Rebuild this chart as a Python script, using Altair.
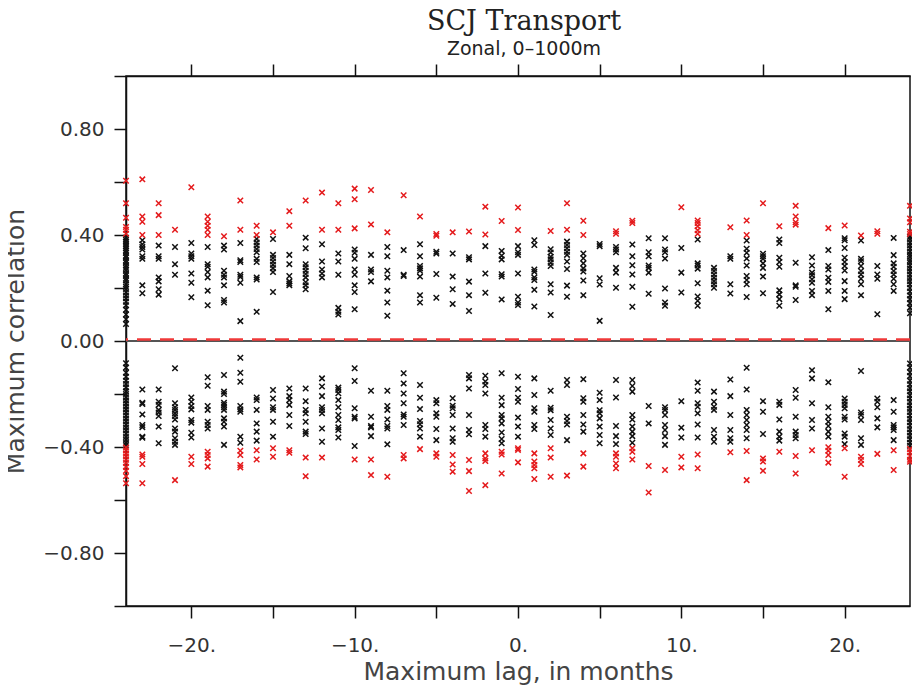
import altair as alt
import pandas as pd

# ---- data (lag in months -> correlation values) ----
BLACK = {
    -24: [0.39, 0.382, 0.375, 0.366, 0.358, 0.35, 0.341, 0.333, 0.322, 0.315, 0.304, 0.296, 0.285, 0.276,
          0.268, 0.255, 0.247, 0.236, 0.228, 0.214, 0.205, 0.196, 0.184, 0.172, 0.161, 0.148, 0.135, 0.118,
          0.1, 0.082, 0.064,
          -0.084, -0.1, -0.12, -0.135, -0.15, -0.162, -0.175, -0.19, -0.2, -0.212, -0.224, -0.235, -0.247,
          -0.258, -0.27, -0.281, -0.293, -0.304, -0.316, -0.327, -0.338, -0.35, -0.362, -0.373, -0.385, -0.393],
    -23: [0.38, 0.365, 0.355, 0.345, 0.32, 0.31, 0.21, 0.18,
          -0.183, -0.233, -0.238, -0.277, -0.317, -0.325, -0.361, -0.365],
    -22: [0.36, 0.32, 0.31, 0.24, 0.225, 0.195, 0.175,
          -0.183, -0.229, -0.241, -0.26, -0.27, -0.283, -0.323, -0.386],
    -21: [0.355, 0.29, 0.25,
          -0.103, -0.235, -0.25, -0.26, -0.273, -0.283, -0.296, -0.33, -0.342, -0.367, -0.38, -0.392],
    -20: [0.37, 0.33, 0.32, 0.31, 0.255, 0.22, 0.165,
          -0.213, -0.229, -0.245, -0.258, -0.298, -0.308, -0.346, -0.364],
    -19: [0.355, 0.29, 0.28, 0.26, 0.24, 0.19, 0.135,
          -0.137, -0.169, -0.245, -0.26, -0.305, -0.317, -0.33],
    -18: [0.36, 0.345, 0.265, 0.25, 0.24, 0.21, 0.155, 0.145,
          -0.128, -0.191, -0.2, -0.233, -0.241, -0.25, -0.26, -0.292, -0.305, -0.323, -0.392],
    -17: [0.37, 0.305, 0.298, 0.25, 0.242, 0.22, 0.075,
          -0.063, -0.12, -0.154, -0.245, -0.258, -0.267, -0.361, -0.384],
    -16: [0.385, 0.372, 0.36, 0.347, 0.335, 0.31, 0.298, 0.24, 0.232, 0.11,
          -0.213, -0.223, -0.26, -0.311, -0.342, -0.376],
    -15: [0.385, 0.325, 0.313, 0.30, 0.288, 0.275, 0.26, 0.185,
          -0.185, -0.217, -0.25, -0.26, -0.305, -0.361],
    -14: [0.325, 0.29, 0.245, 0.225, 0.217, 0.21,
          -0.179, -0.208, -0.223, -0.241, -0.279, -0.321],
    -13: [0.39, 0.35, 0.29, 0.278, 0.265, 0.253, 0.24, 0.222, 0.21, 0.195,
          -0.179, -0.227, -0.26, -0.273, -0.305, -0.342, -0.351],
    -12: [0.365, 0.30, 0.27, 0.255, 0.24,
          -0.141, -0.172, -0.208, -0.25, -0.26, -0.273, -0.33, -0.38],
    -11: [0.33, 0.30, 0.25, 0.125, 0.11, 0.10,
          -0.176, -0.185, -0.197, -0.223, -0.25, -0.279, -0.298, -0.326, -0.336, -0.364],
    -10: [0.345, 0.333, 0.31, 0.27, 0.25, 0.21, 0.185, 0.12,
          -0.103, -0.151, -0.254, -0.286, -0.292, -0.396],
    -9: [0.325, 0.27, 0.26, 0.225,
         -0.188, -0.286, -0.321, -0.326, -0.359],
    -8: [0.355, 0.32, 0.265, 0.24, 0.19, 0.145, 0.095,
         -0.188, -0.245, -0.26, -0.296, -0.321, -0.33, -0.39],
    -7: [0.343, 0.25, 0.245,
         -0.122, -0.16, -0.198, -0.235, -0.277, -0.286, -0.317],
    -6: [0.365, 0.32, 0.283, 0.274, 0.265, 0.243, 0.173, 0.145,
         -0.166, -0.214, -0.257, -0.302, -0.314, -0.33, -0.361],
    -5: [0.337, 0.33, 0.253, 0.163,
         -0.223, -0.235, -0.273, -0.286, -0.332, -0.374],
    -4: [0.33, 0.243, 0.195, 0.14,
         -0.216, -0.244, -0.254, -0.279, -0.33, -0.367, -0.38],
    -3: [0.316, 0.308, 0.224, 0.173, 0.113,
         -0.128, -0.141, -0.179, -0.279, -0.336, -0.352],
    -2: [0.358, 0.255, 0.182,
         -0.131, -0.153, -0.166, -0.198, -0.317, -0.332, -0.361],
    -1: [0.34, 0.322, 0.308, 0.252, 0.243, 0.157,
         -0.122, -0.214, -0.242, -0.279, -0.292, -0.311, -0.345, -0.37, -0.386],
    0: [0.358, 0.335, 0.325, 0.255, 0.167, 0.145, 0.136,
        -0.135, -0.181, -0.214, -0.229, -0.289, -0.323, -0.361],
    1: [0.38, 0.362, 0.27, 0.261, 0.24, 0.23, 0.193, 0.13,
        -0.141, -0.204, -0.254, -0.267, -0.317, -0.332],
    2: [0.346, 0.334, 0.318, 0.308, 0.295, 0.283, 0.214, 0.183, 0.098,
        -0.188, -0.252, -0.261, -0.298, -0.33, -0.355],
    3: [0.375, 0.362, 0.35, 0.337, 0.325, 0.30, 0.272, 0.209, 0.167,
        -0.147, -0.166, -0.286, -0.302, -0.315, -0.374],
    4: [0.33, 0.312, 0.293, 0.274, 0.262, 0.228, 0.173,
        -0.144, -0.216, -0.229, -0.279, -0.315, -0.342],
    5: [0.366, 0.358, 0.237, 0.213, 0.076,
        -0.195, -0.223, -0.261, -0.273, -0.292, -0.323, -0.355, -0.386],
    6: [0.355, 0.345, 0.335, 0.276, 0.258, 0.201,
        -0.147, -0.213, -0.321, -0.359, -0.389],
    7: [0.364, 0.32, 0.286, 0.251, 0.205, 0.129,
        -0.147, -0.17, -0.191, -0.279, -0.296, -0.323, -0.342, -0.359, -0.384],
    8: [0.388, 0.335, 0.32, 0.285, 0.276, 0.258, 0.178,
        -0.245, -0.311],
    9: [0.388, 0.345, 0.335, 0.311, 0.198, 0.145, 0.133,
        -0.25, -0.26, -0.279, -0.317, -0.336, -0.359, -0.392],
    10: [0.351, 0.258, 0.183,
         -0.227, -0.327, -0.364],
    11: [0.383, 0.293, 0.285, 0.273, 0.218, 0.168, 0.152, 0.133,
         -0.157, -0.188, -0.235, -0.248, -0.273, -0.315, -0.364],
    12: [0.276, 0.264, 0.251, 0.239, 0.226, 0.214, 0.201,
         -0.191, -0.229, -0.248, -0.26, -0.336, -0.361, -0.38],
    13: [0.32, 0.31, 0.214, 0.179,
         -0.145, -0.208, -0.279, -0.336, -0.367, -0.38],
    14: [0.379, 0.348, 0.333, 0.311, 0.285, 0.245, 0.23, 0.214, 0.166,
         -0.101, -0.183, -0.26, -0.279, -0.298, -0.317, -0.336, -0.367],
    15: [0.329, 0.32, 0.31, 0.293, 0.276, 0.243, 0.18,
         -0.227, -0.267, -0.351],
    16: [0.383, 0.37, 0.314, 0.298, 0.28, 0.191, 0.176, 0.158, 0.133,
         -0.229, -0.241, -0.296, -0.342, -0.361, -0.376],
    17: [0.295, 0.21, 0.205, 0.155,
         -0.185, -0.214, -0.286, -0.342, -0.355, -0.367],
    18: [0.316, 0.285, 0.258, 0.248, 0.233, 0.22, 0.189, 0.173,
         -0.11, -0.141, -0.235, -0.298, -0.33],
    19: [0.343, 0.283, 0.27, 0.239, 0.223, 0.189, 0.12,
         -0.156, -0.25, -0.286, -0.305, -0.321, -0.342, -0.361],
    20: [0.388, 0.38, 0.351, 0.314, 0.298, 0.283, 0.266, 0.226, 0.189, 0.158,
         -0.217, -0.229, -0.241, -0.254, -0.286, -0.296, -0.349, -0.361, -0.389],
    21: [0.379, 0.31, 0.301, 0.283, 0.264, 0.251, 0.235, 0.214, 0.173,
         -0.113, -0.27, -0.279, -0.298, -0.367, -0.392],
    22: [0.283, 0.251, 0.235, 0.101,
         -0.217, -0.229, -0.25, -0.292, -0.326],
    23: [0.389, 0.324, 0.293, 0.28, 0.264, 0.251, 0.235, 0.214, 0.189,
         -0.223, -0.267, -0.317, -0.326, -0.336, -0.374],
    24: [0.393, 0.385, 0.372, 0.361, 0.35, 0.338, 0.327, 0.318, 0.305, 0.296, 0.284, 0.273, 0.262, 0.25,
         0.238, 0.226, 0.214, 0.2, 0.187, 0.172, 0.158, 0.143, 0.126, 0.105,
         -0.085, -0.1, -0.118, -0.132, -0.15, -0.163, -0.178, -0.19, -0.205, -0.217, -0.23, -0.243, -0.256,
         -0.268, -0.281, -0.294, -0.307, -0.32, -0.333, -0.345, -0.358, -0.371, -0.384, -0.395],
}

RED = {
    -24: [0.605, 0.52, 0.465, 0.43, 0.42, 0.405,
          -0.402, -0.412, -0.425, -0.436, -0.448, -0.46, -0.475, -0.49, -0.51, -0.537],
    -23: [0.61, 0.47, 0.45, 0.40, -0.428, -0.437, -0.464, -0.537],
    -22: [0.52, 0.475, 0.40],
    -21: [0.42, -0.525],
    -20: [0.58, -0.437, -0.464],
    -19: [0.47, 0.45, 0.435, 0.42, 0.40, -0.418, -0.43, -0.443, -0.474],
    -18: [0.395],
    -17: [0.53, 0.42, -0.414, -0.43, -0.468, -0.477],
    -16: [0.435, 0.40, -0.412, -0.447],
    -15: [0.41, -0.405, -0.437],
    -14: [0.49, 0.435, -0.412, -0.422],
    -13: [0.53, -0.44, -0.51],
    -12: [0.56, 0.42, -0.44],
    -11: [0.52, 0.42],
    -10: [0.575, 0.535, 0.425, -0.447],
    -9: [0.57, 0.44, -0.447, -0.506],
    -8: [0.41, -0.512],
    -7: [0.55, -0.43, -0.443],
    -6: [0.47, -0.408],
    -5: [0.404, 0.397, -0.424, -0.437],
    -4: [0.41, -0.43, -0.466, -0.493],
    -3: [0.413, -0.449, -0.491, -0.566],
    -2: [0.507, 0.402, -0.424, -0.443, -0.453, -0.544],
    -1: [0.453, -0.418, -0.428, -0.5],
    0: [0.504, 0.419, -0.405, -0.411, -0.458],
    1: [-0.424, -0.455, -0.468, -0.48, -0.521],
    2: [0.415, -0.405, -0.44, -0.512],
    3: [0.52, 0.42, -0.508],
    4: [0.454, 0.40, -0.424, -0.474],
    6: [0.414, 0.405, -0.424, -0.437, -0.462, -0.48],
    7: [0.454, 0.445, -0.405, -0.418, -0.447],
    8: [-0.472, -0.572],
    9: [-0.487],
    10: [0.505, -0.437, -0.477],
    11: [0.455, 0.445, 0.433, 0.418, 0.405, -0.428, -0.48],
    13: [0.429, -0.42],
    14: [0.455, 0.40, -0.415, -0.525],
    15: [0.52, -0.443, -0.455, -0.49],
    16: [0.433, -0.418],
    17: [0.51, 0.47, 0.448, 0.439, -0.434, -0.5],
    18: [-0.412],
    19: [0.426, -0.401, -0.414, -0.43, -0.459],
    20: [0.436, -0.405, -0.512],
    21: [0.398, -0.437, -0.449, -0.464],
    22: [0.414, 0.405, -0.426],
    23: [-0.412, -0.487],
    24: [0.51, 0.462, 0.448, 0.412, 0.404, -0.408, -0.42, -0.434, -0.448, -0.456],
}

ZERO_LINE = [0.0]
DASHED_LINE = [0.006]
X_TICKS = [-20, -15, -10, -5, 0, 5, 10, 15, 20]
Y_TICKS = [-1.0, -0.8, -0.6, -0.4, -0.2, 0.0, 0.2, 0.4, 0.6, 0.8, 1.0]
X_DOMAIN = [-24, 24]
Y_DOMAIN = [-1, 1]


def to_frame(d):
    return pd.DataFrame([{"lag": k, "r": v} for k, vals in d.items() for v in vals])


black_df = to_frame(BLACK)
red_df = to_frame(RED)

CROSS = "M-1,-1L1,1M-1,1L1,-1"
SANS = "DejaVu Sans"

xscale = alt.Scale(domain=X_DOMAIN, nice=False, zero=False)
yscale = alt.Scale(domain=Y_DOMAIN, nice=False)

y_axis = alt.Axis(
    values=Y_TICKS, tickSize=12, tickWidth=1.5, tickColor="#111",
    domainColor="#111", domainWidth=1.5, grid=False,
    labelFont=SANS, labelFontSize=20, labelColor="#333", labelPadding=10,
    labelOverlap=False,
    labelExpr="(abs(round(datum.value*10)) % 4 == 0 && abs(datum.value) < 0.95) ? replace(format(datum.value, '.2f'), '-', '\u2212') : ''",
    title="Maximum correlation", titleFont=SANS, titleFontSize=25,
    titleFontWeight="normal", titleColor="#444", titleX=-103,
    titleBaseline="alphabetic", titleAngle=270,
)

x_bottom = alt.Axis(
    orient="bottom", values=X_TICKS, tickSize=12, tickWidth=1.5, tickColor="#111",
    domainColor="#111", domainWidth=1.5, grid=False,
    labelFont=SANS, labelFontSize=20, labelColor="#333", labelPadding=17,
    labelOverlap=False, labelFlush=False,
    labelExpr="datum.value % 10 == 0 ? replace(format(datum.value, 'd'), '-', '\u2212') + '.' : ''",
    title="Maximum lag, in months", titleFont=SANS, titleFontSize=25,
    titleFontWeight="normal", titleColor="#444", titlePadding=4,
)

x_top = alt.Axis(
    orient="top", values=X_TICKS, tickSize=12, tickWidth=1.5, tickColor="#111",
    domainColor="#111", domainWidth=1.5, grid=False, labels=False,
)

black = alt.Chart(black_df).mark_point(
    shape=CROSS, filled=False, size=30, strokeWidth=1.5, color="#111", opacity=1
).encode(
    x=alt.X("lag:Q", scale=xscale, axis=x_bottom),
    y=alt.Y("r:Q", scale=yscale, axis=y_axis),
)

red = alt.Chart(red_df).mark_point(
    shape=CROSS, filled=False, size=30, strokeWidth=1.5, color="#e41a1c", opacity=1
).encode(
    x=alt.X("lag:Q", scale=xscale, axis=x_top, title=None),
    y=alt.Y("r:Q", scale=yscale, axis=y_axis),
)

zero = alt.Chart(pd.DataFrame({"r": ZERO_LINE})).mark_rule(
    color="#555", strokeWidth=2
).encode(y=alt.Y("r:Q", scale=yscale, axis=y_axis))

dashed = alt.Chart(pd.DataFrame({"r": DASHED_LINE})).mark_rule(
    color="#f03a3a", strokeWidth=2.5, strokeDash=[14, 9]
).encode(y=alt.Y("r:Q", scale=yscale, axis=y_axis))

chart = alt.layer(zero, dashed, black, red).resolve_scale(
    x="shared", y="shared"
).resolve_axis(
    x="independent"
).properties(
    width=784,
    height=530,
    autosize=alt.AutoSizeParams(type="none"),
    padding={"left": 118, "top": 68, "right": 2, "bottom": 82},
    title=alt.TitleParams(
        text="SCJ Transport", subtitle="Zonal, 0\u20131000m",
        font="DejaVu Serif", fontSize=27, fontWeight="normal", color="#222",
        subtitleFont=SANS, subtitleFontSize=19, subtitleColor="#222",
        anchor="middle", dx=6, offset=3, subtitlePadding=4,
    ),
).configure_view(stroke="#111", strokeWidth=1.5)

chart.save("out.html", embed_options={"renderer": "svg", "actions": False})
